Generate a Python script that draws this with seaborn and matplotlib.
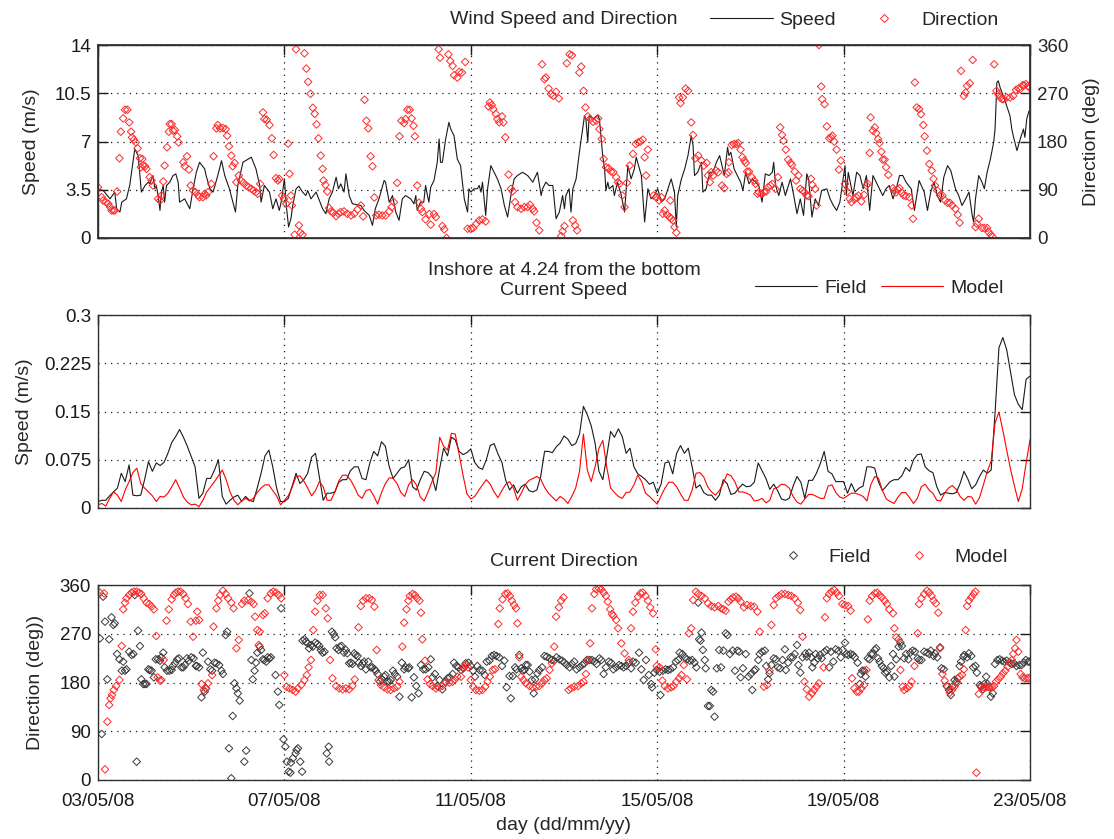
import numpy as np
import pandas as pd
import matplotlib
matplotlib.use("Agg")
import matplotlib.pyplot as plt
from matplotlib.lines import Line2D
import seaborn as sns

sns.set_theme(style="white")
plt.rcParams['font.family'] = ['Liberation Sans', 'DejaVu Sans']
plt.rcParams['font.size'] = 13.5

# ---------------- data ----------------
date_ticks = [0, 4, 8, 12, 16, 20]          # days after 03/05/08 00:00
date_labels = ["03/05/08", "07/05/08", "11/05/08", "15/05/08", "19/05/08", "23/05/08"]

wind_ticks = [0, 3.5, 7, 10.5, 14]
wind_tick_labels = ["0", "3.5", "7", "10.5", "14"]
dir_ticks = [0, 90, 180, 270, 360]
dir_tick_labels = ["0", "90", "180", "270", "360"]
cur_ticks = [0, 0.075, 0.15, 0.225, 0.3]
cur_tick_labels = ["0", "0.075", "0.15", "0.225", "0.3"]

# wind speed (day, m/s)
wind_speed_obs = [
 (0.00,3.52),(0.11,3.45),(0.26,2.84),(0.36,3.33),(0.40,2.12),(0.47,1.88),(0.51,2.60),(0.61,2.84),(0.68,3.81),(0.79,6.46),
 (0.86,5.98),(0.90,4.53),(0.93,3.33),(1.01,3.81),(1.08,4.05),(1.11,3.93),(1.18,4.53),(1.22,3.57),(1.25,3.81),(1.29,3.08),
 (1.33,2.00),(1.36,3.33),(1.40,3.81),(1.43,2.60),(1.47,3.81),(1.54,4.05),(1.61,4.53),(1.67,4.65),(1.72,4.05),(1.75,2.60),
 (1.86,2.84),(1.97,2.12),(2.04,3.57),(2.11,4.77),(2.18,5.49),(2.29,5.01),(2.32,4.53),(2.40,3.57),(2.47,3.33),(2.57,4.53),
 (2.65,5.61),(2.72,4.53),(2.82,3.57),(2.95,1.88),(3.00,3.81),(3.11,5.49),(3.29,5.86),(3.39,5.01),(3.47,3.81),(3.50,2.60),
 (3.57,3.81),(3.68,3.33),(3.75,2.12),(3.82,2.84),(3.89,2.00),(3.93,2.60),(4.00,4.29),(4.04,2.36),(4.09,0.80),(4.14,1.40),
 (4.18,2.36),(4.25,3.57),(4.31,3.76),(4.39,3.33),(4.46,3.08),(4.50,3.45),(4.57,2.84),(4.68,3.33),(4.82,2.12),(4.89,1.76),
 (4.96,2.84),(5.03,3.33),(5.11,4.41),(5.16,3.57),(5.21,3.93),(5.28,3.33),(5.32,4.65),(5.39,3.08),(5.46,2.48),(5.64,2.36),
 (5.71,2.00),(5.82,1.64),(5.89,0.92),(5.95,2.12),(6.03,2.84),(6.14,4.17),(6.17,4.05),(6.25,2.60),(6.32,3.08),(6.39,1.88),
 (6.46,1.28),(6.53,2.84),(6.60,3.08),
 (6.71,2.84),(6.78,2.48),(6.82,3.08),(6.85,2.00),(6.92,2.60),(6.99,2.60),(7.03,3.81),(7.07,3.08),(7.10,2.60),(7.14,3.69),
 (7.21,4.17),(7.28,5.49),(7.32,7.18),(7.35,5.49),(7.39,5.49),(7.46,7.18),(7.53,8.39),(7.57,7.90),(7.64,7.42),(7.71,5.73),
 (7.78,5.25),(7.86,2.84),(7.93,1.88),(7.96,3.57),(8.00,3.33),(8.07,3.57),(8.14,3.57),(8.18,3.81),(8.22,3.33),(8.25,4.05),
 (8.32,1.64),(8.36,3.57),(8.43,5.25),(8.50,4.77),(8.57,4.29),(8.65,3.57),(8.72,2.36),(8.79,1.52),(8.86,3.08),(8.93,4.29),
 (9.00,4.53),(9.11,4.77),(9.22,4.53),(9.33,4.05),(9.43,4.77),(9.51,3.08),(9.54,3.57),(9.61,4.05),(9.68,3.81),(9.76,3.81),
 (9.83,1.40),(9.90,1.88),(9.97,3.08),(10.01,2.12),(10.04,3.08),(10.11,3.57),(10.15,1.88),(10.19,3.57),(10.26,4.29),(10.33,6.22),
 (10.40,7.90),(10.44,8.87),(10.47,8.63),(10.51,6.94),(10.54,8.87),(10.62,8.63),(10.72,8.92),(10.76,8.63),(10.83,5.98),(10.87,5.01),
 (10.90,3.45),(10.94,4.05),(10.97,3.57),(11.05,3.81),(11.08,3.08),(11.15,4.05),(11.23,3.08),(11.30,1.88),(11.37,5.25),(11.44,4.29),
 (11.51,5.01),(11.55,5.86),(11.66,4.53),(11.73,1.16),(11.80,3.57),(11.87,2.84),(11.94,3.08),(12.01,3.57),(12.09,2.60),(12.16,2.84),
 (12.23,3.57),(12.30,4.29),(12.37,3.33),(12.41,0.80),(12.44,3.08),(12.52,4.29),(12.59,5.01),(12.66,5.98),(12.73,7.42),(12.77,6.70),
 (12.80,4.53),(12.87,4.77),(12.95,5.49),(12.98,3.33),(13.05,3.57),(13.13,4.77),(13.20,4.77),(13.27,5.49),(13.34,5.98),
 (13.44,4.53),(13.51,6.58),(13.54,5.98),(13.58,6.22),(13.65,5.01),(13.72,4.53),(13.79,4.05),(13.84,3.45),(13.90,4.77),(13.97,3.93),
 (14.04,4.29),(14.11,4.05),(14.18,3.81),(14.25,2.60),(14.32,4.65),(14.40,4.53),(14.47,4.77),(14.50,5.49),(14.54,3.81),(14.61,3.08),
 (14.68,4.05),(14.75,3.08),(14.86,4.29),(14.93,3.08),(15.00,1.76),(15.07,2.84),(15.14,1.64),(15.21,4.65),(15.25,4.29),(15.32,1.52),
 (15.39,2.84),(15.46,2.36),(15.53,3.45),(15.64,3.57),(15.71,2.84),(15.78,2.36),(15.85,2.00),(15.92,2.60),(16.03,5.25),(16.06,3.08),
 (16.10,4.77),(16.17,3.57),(16.20,3.08),(16.28,4.77),(16.35,4.53),(16.42,3.57),(16.49,4.53),(16.56,2.00),(16.63,4.53),(16.70,4.05),
 (16.77,3.57),(16.84,3.08),(16.91,3.57),(16.98,3.81),(17.06,2.84),(17.13,3.57),(17.20,4.53),(17.27,4.53),(17.34,4.05),(17.45,3.57),
 (17.52,2.00),(17.62,4.17),(17.73,3.33),(17.80,2.00),(17.87,3.33),(17.94,4.05),(18.01,3.08),(18.08,2.60),(18.15,4.41),(18.23,5.25),
 (18.30,4.89),(18.40,3.57),(18.47,3.08),(18.54,2.36),(18.62,2.84),(18.69,3.33),(18.76,1.64),(18.79,1.16),(18.83,2.84),(18.90,4.53),
 (18.97,4.05),(19.02,3.57),(19.08,4.77),(19.15,5.73),(19.22,6.94),(19.25,7.90),(19.29,11.30),(19.32,11.40),(19.36,10.90),(19.43,10.30),
 (19.50,9.59),(19.57,8.87),(19.61,7.90),(19.64,7.42),(19.72,6.34),(19.79,7.18),(19.86,7.90),(19.89,7.30),(19.93,8.63),(19.98,9.23),
]

# wind direction (day, deg)
wind_dir_obs = [
 (0.00,94.8),(0.08,76.2),(0.11,70.0),(0.17,66.9),(0.22,63.8),(0.26,57.6),(0.29,51.4),(0.33,51.4),(0.36,51.4),(0.41,86.7),
 (0.46,148.7),(0.49,198.3),(0.54,223.1),(0.58,239.2),(0.63,239.2),(0.67,215.6),(0.71,198.3),(0.73,187.7),(0.77,183.4),(0.81,178.4),
 (0.85,167.3),(0.90,148.7),(0.92,132.0),(0.95,147.5),(0.97,135.1),(1.01,133.8),(1.04,128.9),(1.11,113.4),(1.15,107.2),(1.18,97.9),
 (1.29,73.1),(1.33,70.0),(1.36,79.3),(1.40,105.3),(1.43,135.1),(1.48,169.1),(1.52,198.3),(1.54,212.5),(1.58,212.5),(1.61,200.1),
 (1.65,201.4),(1.70,189.6),(1.73,178.4),(1.83,141.3),(1.86,133.8),(1.91,152.4),(1.95,127.6),(1.99,97.9),(2.04,88.6),(2.09,85.5),
 (2.15,79.3),(2.18,76.2),(2.25,76.2),(2.29,82.4),(2.32,79.3),(2.36,85.5),(2.43,101.0),(2.48,152.4),(2.54,204.5),(2.57,210.7),
 (2.62,204.5),(2.68,205.1),(2.74,203.2),(2.77,190.8),(2.81,171.0),(2.86,153.7),(2.89,133.8),(2.93,140.0),(2.97,104.1),(3.02,116.5),
 (3.07,107.2),(3.12,102.9),(3.18,97.9),(3.23,94.8),(3.29,91.7),(3.34,88.6),(3.39,85.5),(3.43,82.4),(3.48,101.0),(3.54,234.2),
 (3.57,221.8),(3.62,220.6),(3.68,210.7),(3.73,185.9),(3.77,154.9),(3.82,111.5),(3.86,107.2),(3.89,110.3),(3.95,79.3),(3.99,73.1),
 (4.04,63.8),(4.08,176.0),(4.11,119.6),(4.14,79.3),(4.16,60.7),(4.22,6.2),(4.25,351.9),(4.31,23.5),(4.34,9.9),(4.39,6.2),
 (4.43,344.5),(4.47,316.0),(4.51,291.2),(4.56,268.9),(4.61,242.9),(4.65,231.7),(4.69,211.9),(4.73,185.9),(4.78,153.7),(4.82,128.9),
 (4.84,107.2),(4.88,99.1),(4.92,86.7),(4.96,55.8),(5.00,49.6),(5.05,47.1),(5.11,40.9),(5.16,45.2),(5.21,48.3),(5.28,49.6),
 (5.35,45.2),(5.43,42.1),(5.50,45.2),(5.57,53.3),(5.64,60.7),(5.69,40.3),(5.72,257.8),(5.76,218.7),(5.80,204.5),(5.85,152.4),
 (5.89,133.8),(5.93,75.6),(5.97,42.1),(6.03,43.4),(6.10,42.1),(6.17,42.1),(6.25,49.6),(6.30,57.6),(6.35,66.9),(6.42,102.9),
 (6.47,189.6),(6.51,218.7),(6.57,214.4),(6.60,221.8),(6.64,239.2),
 (6.69,239.2),(6.73,223.1),(6.77,209.4),(6.80,189.6),(6.85,97.9),(6.89,65.7),(6.93,54.5),(6.96,48.3),(7.03,34.7),(7.11,44.6),
 (7.14,24.8),(7.21,44.6),(7.25,39.0),(7.31,351.9),(7.34,336.4),(7.39,22.3),(7.43,16.1),(7.48,0.0),(7.52,342.6),(7.56,330.2),
 (7.61,321.0),(7.64,303.6),(7.71,299.3),(7.75,309.8),(7.81,308.6),(7.88,328.4),(7.93,17.3),(8.00,17.3),(8.05,18.6),(8.12,26.6),
 (8.18,32.8),(8.25,34.7),(8.32,31.0),(8.38,245.4),(8.41,252.8),(8.45,247.8),(8.48,240.4),(8.54,231.1),(8.57,221.8),(8.61,215.6),
 (8.67,226.8),(8.70,215.6),(8.74,187.7),(8.81,118.3),(8.86,91.7),(8.90,87.4),(8.95,66.9),(9.00,57.6),(9.08,54.5),(9.15,57.6),
 (9.22,57.6),(9.27,62.0),(9.33,54.5),(9.36,49.6),(9.41,28.5),(9.47,14.3),(9.53,324.0),(9.58,296.2),(9.61,299.3),(9.67,278.8),
 (9.72,268.3),(9.77,265.2),(9.83,272.6),(9.89,260.2),(9.94,3.7),(9.97,12.4),(10.01,22.3),(10.06,325.9),(10.12,342.6),(10.17,340.8),
 (10.19,32.8),(10.24,23.5),(10.28,14.3),(10.33,308.6),(10.37,319.7),(10.42,274.5),(10.46,243.5),(10.51,226.8),(10.56,221.8),(10.62,216.9),
 (10.69,218.7),(10.73,223.1),(10.76,203.2),(10.81,184.6),(10.85,147.5),(10.90,132.0),(10.96,130.1),(11.01,123.9),(11.06,122.7),(11.12,113.4),
 (11.16,104.1),(11.19,101.0),(11.25,79.3),(11.30,57.6),(11.35,102.9),(11.41,135.1),(11.48,156.8),(11.54,175.3),(11.59,178.4),(11.64,179.7),
 (11.69,183.4),(11.73,150.6),(11.76,116.5),(11.80,164.8),(11.92,79.3),(11.98,76.2),(12.04,70.0),(12.09,76.2),(12.12,45.2),(12.16,51.4),
 (12.21,43.4),(12.27,39.0),(12.28,70.0),(12.30,35.9),(12.34,32.8),(12.37,20.4),(12.41,9.9),(12.47,262.1),(12.50,251.6),(12.55,262.1),
 (12.61,278.8),(12.66,274.5),(12.73,215.6),(12.77,192.1),(12.82,148.7),(12.88,153.7),(12.95,144.4),(13.00,135.1),(13.06,140.0),(13.09,116.5),
 (13.13,104.1),(13.16,122.7),(13.20,116.5),(13.26,125.8),(13.31,122.7),
 (13.39,97.9),(13.44,92.9),(13.49,119.6),(13.53,122.7),(13.54,141.3),(13.60,173.5),(13.65,175.3),(13.70,175.3),(13.74,177.2),(13.79,164.8),
 (13.83,150.6),(13.87,144.4),(13.90,140.0),(13.93,123.9),(13.97,123.9),(14.03,113.4),(14.08,107.2),(14.11,101.0),(14.15,82.4),(14.18,85.5),
 (14.24,82.4),(14.29,85.5),(14.34,86.7),(14.38,94.8),(14.43,97.9),(14.47,101.0),(14.54,91.7),(14.59,113.4),(14.64,206.3),(14.68,192.1),
 (14.71,181.5),(14.76,164.8),(14.81,146.2),(14.86,140.0),(14.89,136.3),(14.95,123.9),(14.98,107.2),(15.03,116.5),(15.07,91.7),(15.12,88.6),
 (15.16,85.5),(15.21,79.3),(15.25,78.1),(15.30,110.3),(15.33,99.1),(15.39,91.7),(15.42,60.7),(15.47,360.0),(15.52,282.5),(15.54,259.0),
 (15.59,249.7),(15.64,208.2),(15.69,185.9),(15.73,187.7),(15.76,190.8),(15.80,179.7),(15.85,164.8),(15.90,127.6),(15.94,144.4),(16.03,101.0),
 (16.08,86.7),(16.13,73.1),(16.17,66.9),(16.23,71.9),(16.27,76.2),(16.32,79.3),(16.38,68.2),(16.44,80.5),(16.49,97.9),(16.52,101.0),
 (16.56,158.6),(16.58,224.9),(16.63,200.1),(16.67,206.3),(16.70,195.8),(16.74,184.6),(16.77,177.2),(16.81,161.1),(16.84,146.2),(16.88,146.2),
 (16.91,132.0),(16.96,117.7),(17.06,92.9),(17.09,88.6),(17.13,85.5),(17.16,90.5),(17.20,92.9),(17.25,84.3),(17.29,79.3),(17.34,78.1),
 (17.41,76.2),(17.46,60.7),(17.49,35.9),(17.53,290.0),(17.57,243.5),(17.62,240.4),(17.66,231.1),(17.71,210.7),(17.74,189.6),(17.79,163.0),
 (17.84,138.2),(17.89,125.8),(17.93,110.3),(17.96,97.9),(18.01,88.6),(18.07,79.3),(18.12,79.3),(18.18,70.0),(18.23,65.7),(18.28,65.7),
 (18.33,60.7),(18.40,54.5),(18.45,43.4),(18.49,28.5),(18.52,311.7),(18.58,265.2),(18.62,271.4),(18.65,283.8),(18.71,288.7),(18.77,332.1),
 (18.83,20.4),(18.86,26.6),(18.90,35.9),(18.97,18.6),(19.02,18.6),(19.08,18.6),(19.11,11.2),(19.16,6.2),(19.20,1.9),(19.23,324.0),
 (19.28,274.5),(19.32,268.3),(19.36,262.1),(19.40,259.0),(19.43,259.0),(19.50,262.1),(19.57,262.1),(19.64,265.2),(19.70,276.3),(19.75,278.8),
 (19.79,277.6),(19.84,285.0),(19.87,285.0),(19.91,286.9),(19.96,283.8),(19.99,280.7),
]

# current speed, 2-hourly samples from 03/05/08 00:00 (m/s)
cur_field = [
 0.010,0.012,0.012,0.019,0.025,0.031,0.054,0.041,0.067,0.020,
 0.019,0.020,0.044,0.072,0.057,0.070,0.066,0.071,0.085,0.102,
 0.111,0.122,0.110,0.096,0.080,0.064,0.015,0.023,0.046,0.046,
 0.059,0.075,0.018,0.006,0.012,0.017,0.020,0.010,0.018,0.012,
 0.010,0.031,0.054,0.081,0.090,0.064,0.031,0.010,0.010,0.015,
 0.034,0.054,0.038,0.044,0.054,0.079,0.085,0.049,0.012,0.023,
 0.023,0.025,0.040,0.044,0.044,0.058,0.064,0.064,0.046,0.044,
 0.070,0.088,0.081,0.103,0.096,0.064,0.046,0.054,0.062,0.064,
 0.075,0.033,0.028,0.044,0.057,0.055,0.048,0.027,0.062,0.093,
 0.081,0.110,0.106,0.088,0.083,0.086,0.092,0.071,0.063,0.060,
 0.075,0.097,0.100,0.084,0.071,0.043,0.028,0.036,0.023,0.033,
 0.037,0.027,0.025,0.028,0.049,0.088,0.088,0.086,0.095,0.101,
 0.112,0.107,0.097,0.100,0.115,0.158,0.145,0.128,0.101,0.057,
 0.044,0.080,0.119,0.110,0.123,0.111,0.085,0.093,0.064,0.053,
 0.049,0.044,0.037,0.040,0.023,0.037,0.070,0.072,0.053,0.085,
 0.097,0.085,0.093,0.064,0.031,0.036,0.024,0.020,0.020,0.012,
 0.020,0.044,0.038,0.021,0.023,0.031,0.037,0.033,0.034,0.040,
 0.070,0.058,0.046,0.029,0.037,0.027,0.014,0.012,0.015,0.034,
 0.049,0.040,0.015,0.043,0.043,0.054,0.069,0.088,0.057,0.053,
 0.041,0.041,0.041,0.023,0.038,0.025,0.031,0.034,0.064,0.064,
 0.062,0.040,0.027,0.034,0.041,0.044,0.044,0.050,0.063,0.057,
 0.075,0.083,0.084,0.064,0.058,0.055,0.033,0.020,0.024,0.023,
 0.022,0.024,0.038,0.057,0.045,0.030,0.036,0.049,0.059,0.054,
 0.059,0.148,0.249,0.265,0.246,0.211,0.176,0.161,0.153,0.200,
 0.205,
]
cur_model = [
 0.005,0.007,0.003,0.015,0.025,0.020,0.010,0.028,0.041,0.055,
 0.062,0.038,0.031,0.025,0.019,0.010,0.018,0.017,0.023,0.033,
 0.044,0.031,0.017,0.009,0.005,0.006,0.002,0.012,0.025,0.033,
 0.041,0.050,0.059,0.044,0.025,0.012,0.005,0.011,0.015,0.011,
 0.015,0.024,0.031,0.036,0.036,0.027,0.019,0.005,0.012,0.019,
 0.032,0.049,0.050,0.042,0.031,0.019,0.027,0.041,0.033,0.012,
 0.012,0.025,0.042,0.051,0.051,0.044,0.033,0.020,0.015,0.027,
 0.029,0.019,0.006,0.024,0.038,0.047,0.046,0.038,0.024,0.018,
 0.036,0.044,0.036,0.017,0.011,0.025,0.041,0.055,0.110,0.096,
 0.090,0.116,0.115,0.083,0.051,0.022,0.014,0.018,0.027,0.036,
 0.044,0.037,0.025,0.016,0.027,0.037,0.041,0.031,0.012,0.023,
 0.036,0.043,0.046,0.049,0.045,0.032,0.023,0.017,0.011,0.018,
 0.014,0.007,0.018,0.031,0.057,0.115,0.059,0.041,0.064,0.093,
 0.105,0.064,0.031,0.024,0.018,0.015,0.024,0.025,0.036,0.051,
 0.041,0.023,0.018,0.012,0.006,0.019,0.031,0.040,0.040,0.033,
 0.022,0.012,0.012,0.028,0.054,0.055,0.048,0.033,0.025,0.020,
 0.027,0.038,0.053,0.050,0.041,0.025,0.025,0.023,0.020,0.011,
 0.012,0.015,0.008,0.012,0.030,0.032,0.037,0.036,0.031,0.018,
 0.009,0.006,0.014,0.021,0.021,0.018,0.015,0.015,0.034,0.036,
 0.024,0.017,0.015,0.019,0.023,0.023,0.021,0.018,0.011,0.036,
 0.049,0.046,0.027,0.014,0.010,0.007,0.017,0.024,0.024,0.016,
 0.007,0.015,0.033,0.037,0.028,0.023,0.012,0.011,0.023,0.031,
 0.035,0.029,0.018,0.012,0.018,0.017,0.006,0.016,0.036,0.057,
 0.073,0.132,0.149,0.121,0.090,0.060,0.034,0.010,0.030,0.070,
 0.106,
]

# current direction (day, deg)
cdir_field = [
 (0.04,261.5),(0.08,84.9),(0.11,338.5),(0.15,292.3),(0.20,185.8),(0.24,259.7),(0.29,300.3),(0.33,286.2),(0.36,289.2),(0.41,232.6),
 (0.46,222.8),(0.51,201.8),(0.54,218.5),(0.58,201.8),(0.61,204.3),(0.67,236.9),(0.72,230.8),(0.76,232.6),(0.79,341.5),(0.83,33.8),
 (0.86,275.7),(0.90,247.4),(0.93,185.8),(0.97,177.2),(1.01,177.2),(1.04,177.2),(1.08,204.3),(1.11,203.1),(1.15,201.8),(1.20,189.5),
 (1.24,222.8),(1.29,222.8),(1.33,220.3),(1.36,226.5),(1.40,235.1),(1.43,208.0),(1.48,201.8),(1.53,201.8),(1.58,203.1),(1.61,210.5),
 (1.65,215.4),(1.70,222.8),(1.74,224.6),(1.79,208.0),(1.83,208.0),(1.86,212.3),(1.91,224.6),(1.95,220.3),(2.00,226.5),(2.05,224.6),
 (2.10,210.5),(2.12,210.5),(2.17,208.0),(2.22,152.6),(2.25,235.1),(2.29,163.1),(2.32,169.2),(2.36,218.5),(2.41,204.3),(2.45,201.8),
 (2.50,216.6),(2.54,215.4),(2.60,212.3),(2.65,201.8),(2.68,195.7),(2.74,267.7),(2.77,273.8),(2.81,58.5),(2.86,3.1),(2.89,118.2),
 (2.93,178.5),(2.97,169.2),(3.00,160.0),(3.04,146.5),(3.14,33.8),(3.18,54.2),(3.25,344.6),(3.29,221.5),(3.32,185.8),(3.36,201.8),
 (3.39,216.6),(3.42,235.1),(3.47,246.2),(3.50,240.0),(3.54,222.8),(3.57,221.5),(3.61,218.5),(3.64,226.5),(3.68,224.6),(3.71,226.5),
 (3.81,193.8),(3.86,163.1),(3.89,138.5),(3.93,316.9),(3.98,75.1),(4.02,61.5),(4.05,33.8),(4.09,15.4),(4.13,13.5),(4.14,32.0),
 (4.18,40.0),(4.24,49.2),(4.26,55.4),(4.29,58.5),(4.34,33.8),(4.38,15.4),(4.39,257.2),(4.43,259.7),(4.46,255.4),(4.50,252.3),
 (4.53,243.1),(4.57,249.2),(4.61,246.2),(4.66,253.5),(4.71,251.1),(4.75,247.4),(4.78,240.0),(4.82,235.1),(4.86,236.9),(4.91,49.2),
 (4.95,61.5),(4.96,33.8),(5.02,273.8),(5.06,269.5),(5.09,263.4),(5.12,243.1),(5.16,240.0),(5.19,246.2),(5.23,247.4),(5.28,235.1),
 (5.32,240.0),(5.35,233.8),(5.39,215.4),(5.43,216.6),(5.46,214.2),(5.50,233.8),(5.53,230.8),(5.57,228.9),(5.60,216.6),(5.64,210.5),
 (5.68,215.4),(5.71,218.5),(5.75,204.3),(5.80,218.5),(5.85,208.0),(5.89,208.0),(5.93,204.3),(5.96,201.8),(6.00,195.7),(6.05,181.5),
 (6.09,185.8),(6.14,190.8),(6.17,193.8),(6.21,181.5),(6.25,181.5),(6.28,184.6),(6.33,201.8),(6.37,195.7),(6.42,190.8),(6.47,153.8),
 (6.52,216.6),(6.57,204.3),(6.60,208.0),(6.66,206.2),
 (6.68,208.0),(6.73,152.6),(6.78,189.5),(6.83,173.5),(6.88,160.0),(6.93,212.3),(6.98,204.3),(7.03,204.3),(7.09,208.0),(7.14,222.8),
 (7.18,189.5),(7.23,195.7),(7.28,173.5),(7.33,184.6),(7.39,167.4),(7.45,181.5),(7.50,187.7),(7.55,189.5),(7.61,195.7),(7.64,216.6),
 (7.69,210.5),(7.74,208.0),(7.79,203.1),(7.84,206.2),(7.89,215.4),(7.95,216.6),(8.00,210.5),(8.05,201.8),(8.09,190.8),(8.14,210.5),
 (8.19,203.1),(8.25,201.8),(8.30,193.8),(8.34,218.5),(8.40,220.3),(8.45,228.9),(8.50,230.8),(8.55,228.9),(8.61,226.5),(8.67,210.5),
 (8.72,220.3),(8.77,171.1),(8.83,192.0),(8.86,150.8),(8.90,192.0),(8.95,208.0),(8.98,204.3),(9.04,230.8),(9.08,206.2),(9.11,201.8),
 (9.15,203.1),(9.18,212.3),(9.22,212.3),(9.26,200.0),(9.31,184.6),(9.35,160.0),(9.38,185.8),(9.43,196.9),(9.47,203.1),(9.53,208.0),
 (9.58,228.9),(9.63,227.7),(9.69,224.6),(9.74,221.5),(9.79,220.3),(9.84,226.5),(9.90,222.8),(9.96,220.3),(10.01,216.6),(10.06,212.3),
 (10.12,208.0),(10.17,214.2),(10.22,218.5),(10.27,204.3),(10.33,208.0),(10.39,212.3),(10.44,215.4),(10.49,221.5),(10.55,221.5),(10.60,221.5),
 (10.65,218.5),(10.70,214.2),(10.76,224.6),(10.80,221.5),(10.85,195.7),(10.90,208.0),(10.96,218.5),(11.01,216.6),(11.06,204.3),(11.12,208.0),
 (11.18,212.3),(11.23,210.5),(11.28,208.0),(11.33,210.5),(11.39,216.6),(11.44,206.2),(11.48,218.5),(11.54,216.6),(11.61,235.1),(11.66,204.3),
 (11.71,184.6),(11.76,221.5),(11.82,193.8),(11.87,177.2),(11.89,171.1),(11.94,198.2),(11.99,203.1),(12.05,200.0),(12.07,156.9),(12.12,201.8),
 (12.18,204.3),(12.23,203.1),(12.28,204.3),(12.34,208.0),(12.40,218.5),(12.45,221.5),(12.48,235.1),(12.54,232.6),(12.59,226.5),(12.64,222.8),
 (12.70,220.3),(12.75,221.5),(12.80,216.6),(12.84,208.0),(12.88,327.4),(12.90,259.7),(12.93,257.2),(12.95,272.0),(12.98,240.0),(13.02,221.5),
 (13.04,206.2),(13.09,136.6),(13.13,136.6),(13.16,166.2),(13.20,163.1),(13.23,116.9),(13.28,206.2),(13.33,240.0),
 (13.37,208.0),(13.42,238.8),(13.47,270.8),(13.51,267.7),(13.56,232.6),(13.62,238.8),(13.67,201.8),(13.72,238.8),(13.76,236.9),(13.79,189.5),
 (13.84,206.2),(13.90,232.6),(13.96,190.8),(14.01,195.7),(14.04,166.2),(14.08,201.8),(14.11,204.3),(14.17,221.5),(14.20,232.6),(14.25,236.9),
 (14.31,238.8),(14.34,210.5),(14.38,185.8),(14.41,196.9),(14.45,212.3),(14.50,224.6),(14.55,222.8),(14.59,208.0),(14.64,206.2),(14.69,221.5),
 (14.74,241.2),(14.76,203.1),(14.81,216.6),(14.86,226.5),(14.91,226.5),(14.95,232.6),(15.00,249.2),(15.03,212.3),(15.07,198.2),(15.12,226.5),
 (15.18,233.8),(15.21,227.7),(15.26,235.1),(15.30,226.5),(15.33,208.0),(15.37,216.6),(15.40,232.6),(15.45,224.6),(15.49,230.8),(15.53,224.6),
 (15.59,236.9),(15.64,240.0),(15.69,208.0),(15.73,236.9),(15.78,218.5),(15.83,241.2),(15.89,238.8),(15.94,226.5),(15.98,240.0),(16.03,253.5),
 (16.06,232.6),(16.10,230.8),(16.15,232.6),(16.20,230.8),(16.24,226.5),(16.30,216.6),(16.35,177.2),(16.37,195.7),(16.40,201.8),(16.44,201.8),
 (16.47,190.8),(16.52,224.6),(16.56,222.8),(16.59,232.6),(16.63,232.6),(16.67,240.0),(16.70,243.1),(16.74,224.6),(16.77,218.5),(16.82,210.5),
 (16.86,206.2),(16.89,198.2),(16.93,200.0),(16.98,189.5),(17.02,210.5),(17.06,232.6),(17.09,190.8),(17.13,222.8),(17.18,246.2),(17.22,253.5),
 (17.25,247.4),(17.30,224.6),(17.34,232.6),(17.39,222.8),(17.43,235.1),(17.48,238.8),(17.53,236.9),(17.59,224.6),(17.62,221.5),(17.67,221.5),
 (17.73,236.9),(17.79,235.1),(17.84,232.6),(17.87,238.8),(17.93,228.9),(17.96,233.8),(18.01,226.5),(18.07,244.9),(18.10,206.2),(18.15,204.3),
 (18.21,173.5),(18.26,166.2),(18.30,156.9),(18.33,172.3),(18.38,184.6),(18.42,181.5),(18.45,187.7),(18.49,210.5),(18.52,218.5),(18.57,227.7),
 (18.59,230.8),(18.65,226.5),(18.69,233.8),(18.74,228.9),(18.78,208.0),(18.83,210.5),(18.86,198.2),(18.92,175.4),(18.95,173.5),(18.99,167.4),
 (19.02,177.2),(19.06,190.8),(19.09,177.2),(19.13,171.1),(19.16,153.8),(19.20,160.0),(19.25,214.2),(19.30,221.5),(19.35,222.8),(19.40,220.3),
 (19.45,218.5),(19.50,220.3),(19.56,216.6),(19.61,214.2),(19.66,215.4),(19.71,210.5),(19.77,212.3),(19.82,212.3),(19.87,216.6),(19.91,221.5),
 (19.96,218.5),(19.99,218.5),
]
cdir_model = [
 (0.04,345.9),(0.13,344.6),(0.15,19.7),(0.20,107.7),(0.24,138.5),(0.27,150.8),(0.30,156.9),(0.34,166.2),(0.39,173.5),(0.46,184.6),
 (0.51,247.4),(0.54,315.1),(0.58,327.4),(0.61,335.4),(0.67,341.5),(0.72,345.9),(0.77,347.7),(0.83,347.7),(0.88,345.9),(0.93,343.4),
 (0.98,335.4),(1.04,327.4),(1.10,324.9),(1.15,320.0),(1.20,315.1),(1.25,265.9),(1.28,189.5),(1.33,183.4),(1.36,184.6),(1.41,221.5),
 (1.47,294.2),(1.52,315.1),(1.58,333.5),(1.63,341.5),(1.67,345.9),(1.72,347.7),(1.77,347.7),(1.83,343.4),(1.88,335.4),(1.93,324.9),
 (1.99,292.3),(2.04,264.6),(2.10,294.2),(2.13,310.8),(2.17,295.4),(2.22,177.2),(2.27,166.2),(2.31,169.2),(2.36,178.5),(2.45,193.8),
 (2.48,283.1),(2.54,316.9),(2.58,331.1),(2.62,341.5),(2.68,349.5),(2.74,343.4),(2.79,335.4),(2.86,327.4),(2.91,316.9),(2.97,243.1),
 (3.02,258.5),(3.09,324.9),(3.14,331.1),(3.22,332.3),(3.29,329.2),(3.34,324.9),(3.37,301.5),(3.42,276.9),(3.45,249.2),(3.47,273.8),
 (3.54,304.6),(3.58,307.7),(3.64,335.4),(3.71,344.6),(3.76,347.7),(3.82,345.9),(3.88,341.5),(3.93,335.4),(4.00,193.8),(4.04,172.3),
 (4.11,169.2),(4.18,166.2),(4.24,163.1),(4.29,169.2),(4.36,175.4),(4.43,184.6),(4.48,193.8),(4.52,208.0),(4.57,221.5),(4.62,276.9),
 (4.66,310.8),(4.71,331.1),(4.76,341.5),(4.82,341.5),(4.89,316.9),(4.93,298.5),(4.98,221.5),(5.03,187.7),(5.11,173.5),(5.18,169.2),
 (5.25,167.4),(5.32,169.2),(5.39,167.4),(5.46,173.5),(5.51,185.8),(5.59,281.8),(5.64,321.2),(5.69,331.1),(5.75,335.4),(5.82,335.4),
 (5.88,332.3),(5.93,320.0),(5.98,240.0),(6.02,184.6),(6.07,175.4),(6.14,171.1),(6.21,167.4),(6.28,166.2),(6.35,169.2),(6.42,172.3),
 (6.47,181.5),(6.53,246.2),(6.57,290.5),(6.62,315.1),(6.66,331.1),
 (6.69,339.7),(6.75,343.4),(6.80,341.5),(6.85,335.4),(6.90,331.1),(6.93,308.9),(6.96,259.7),(7.02,220.3),(7.07,185.8),(7.12,177.2),
 (7.18,173.5),(7.25,169.2),(7.32,171.1),(7.39,173.5),(7.46,179.7),(7.54,179.7),(7.61,181.5),(7.66,185.8),(7.71,190.8),(7.79,190.8),
 (7.84,208.0),(7.89,212.3),(7.94,208.0),(8.00,184.6),(8.05,172.3),(8.11,166.2),(8.18,164.9),(8.25,166.2),(8.31,172.3),(8.36,181.5),
 (8.41,190.8),(8.47,203.1),(8.52,204.3),(8.59,288.0),(8.62,316.9),(8.68,333.5),(8.74,343.4),(8.79,344.6),(8.84,339.7),(8.88,331.1),
 (8.93,323.1),(8.97,316.9),(9.00,289.2),(9.04,226.5),(9.08,190.8),(9.13,184.6),(9.18,178.5),(9.26,173.5),(9.33,171.1),(9.40,172.3),
 (9.47,173.5),(9.53,178.5),(9.58,184.6),(9.63,187.7),(9.69,203.1),(9.74,215.4),(9.79,246.2),(9.83,301.5),(9.89,318.8),(9.94,331.1),
 (9.99,337.2),(10.10,166.2),(10.15,169.2),(10.22,172.3),(10.30,173.5),(10.37,178.5),(10.42,181.5),(10.47,195.7),(10.51,221.5),(10.56,252.3),
 (10.60,316.9),(10.65,343.4),(10.69,352.0),(10.75,353.8),(10.80,352.0),(10.85,345.9),(10.90,339.7),(10.94,329.2),(10.99,315.1),(11.03,306.5),
 (11.06,302.8),(11.12,295.4),(11.16,280.0),(11.23,252.3),(11.30,233.8),(11.39,221.5),(11.44,280.0),(11.48,310.8),(11.53,327.4),(11.59,338.5),
 (11.64,344.6),(11.69,345.9),(11.75,339.7),(11.80,331.1),(11.85,318.8),(11.91,307.7),(11.97,241.2),(11.99,210.5),(12.05,208.0),(12.11,183.4),
 (12.16,173.5),(12.23,169.2),(12.30,171.1),(12.35,173.5),(12.41,181.5),(12.47,187.7),(12.52,193.8),(12.57,212.3),(12.64,185.8),(12.68,270.8),
 (12.73,280.0),(12.77,332.3),(12.83,347.7),(12.88,343.4),(12.95,339.7),(13.02,335.4),(13.09,326.2),(13.16,321.2),(13.23,318.8),(13.31,321.2),
 (13.37,316.9),(13.42,315.1),(13.47,312.6),(13.53,329.2),(13.58,333.5),(13.63,337.2),(13.69,338.5),(13.74,335.4),(13.79,329.2),(13.86,318.8),
 (13.93,323.1),(14.01,321.2),(14.08,320.0),(14.15,310.8),(14.20,273.8),(14.29,172.3),(14.36,175.4),(14.41,201.8),(14.45,286.2),(14.50,323.1),
 (14.55,335.4),(14.61,339.7),(14.67,343.4),(14.74,343.4),(14.81,341.5),(14.88,339.7),(14.95,335.4),(15.02,327.4),(15.07,313.8),(15.12,264.6),
 (15.16,181.5),(15.21,167.4),(15.26,153.8),(15.32,160.0),(15.37,166.2),(15.42,172.3),(15.47,178.5),(15.57,208.0),(15.60,300.3),(15.64,335.4),
 (15.69,343.4),(15.74,347.7),(15.80,350.8),(15.85,345.9),(15.90,339.7),(15.97,324.9),(16.03,323.1),(16.10,321.2),(16.15,312.6),(16.18,187.7),
 (16.23,169.2),(16.28,163.1),(16.33,163.1),(16.38,169.2),(16.44,175.4),(16.49,203.1),(16.52,296.6),(16.56,331.1),(16.61,339.7),(16.67,344.6),
 (16.72,345.9),(16.77,341.5),(16.82,337.2),(16.88,331.1),(16.93,324.9),(16.98,315.1),(17.06,307.7),(17.09,280.0),(17.13,263.4),(17.18,259.7),
 (17.22,203.1),(17.27,172.3),(17.30,166.2),(17.36,169.2),(17.41,173.5),(17.46,181.5),(17.52,210.5),(17.59,270.8),(17.62,324.9),(17.67,335.4),
 (17.73,343.4),(17.79,349.5),(17.84,345.9),(17.89,339.7),(17.93,331.1),(17.98,326.2),(18.03,308.9),(18.07,243.1),(18.12,195.7),(18.17,183.4),
 (18.23,172.3),(18.28,161.2),(18.33,166.2),(18.38,172.3),(18.44,179.7),(18.49,190.8),(18.54,193.8),(18.58,204.3),(18.62,276.9),(18.65,321.2),
 (18.69,331.1),(18.74,337.2),(18.79,343.4),(18.83,347.7),(18.85,13.5),(18.90,158.8),(18.95,171.1),(19.01,171.1),(19.06,171.1),(19.11,172.3),
 (19.18,171.1),(19.23,173.5),(19.27,181.5),(19.32,185.8),(19.37,190.8),(19.42,196.9),(19.47,201.8),(19.52,209.2),(19.57,216.6),(19.61,221.5),
 (19.64,232.6),(19.68,243.1),(19.71,258.5),(19.75,236.9),(19.80,195.7),(19.84,189.5),(19.89,187.7),(19.94,187.7),(19.98,187.7),
]

# ---------------- frames ----------------
ws = pd.DataFrame(wind_speed_obs, columns=["day", "speed"])
wd = pd.DataFrame(wind_dir_obs, columns=["day", "dir"])
cs = pd.DataFrame({"day": np.arange(len(cur_field)) / 12.0, "field": cur_field, "model": cur_model})
cdf = pd.DataFrame(cdir_field, columns=["day", "dir"])
cdm = pd.DataFrame(cdir_model, columns=["day", "dir"])

W, H = 1114, 839
fig = plt.figure(figsize=(W / 100, H / 100), dpi=100)
L, R = 98 / W, 1030 / W

def box(top, bottom):
    return [L, 1 - bottom / H, R - L, (bottom - top) / H]

ax1 = fig.add_axes(box(45, 238))
ax2 = fig.add_axes(box(315, 508))
ax3 = fig.add_axes(box(585, 780))

FS = 13.5
FT = 14
grid_ls = (0, (1, 4))

def style(ax, yt, yl, ylim, right=True):
    ax.set_xlim(0, 20)
    ax.set_ylim(*ylim)
    ax.set_xticks(date_ticks)
    ax.set_yticks(yt)
    ax.set_yticklabels(yl)
    ax.tick_params(axis='both', direction='in', length=7, width=1, top=True,
                   right=right, colors='k', labelsize=FS, pad=5)
    ax.tick_params(axis='x', pad=9)
    ax.grid(True, linestyle=grid_ls, color='k', linewidth=0.9)
    ax.set_axisbelow(True)
    for s in ax.spines.values():
        s.set_color('#303030')
        s.set_linewidth(1.0)

RED_EDGE = '#ff2a2a'
GRAY_EDGE = '#3a3a3a'
MS = 15

# ---- top: wind ----
sns.lineplot(data=ws, x="day", y="speed", ax=ax1, color='k', lw=0.8,
             estimator=None, sort=False)
style(ax1, wind_ticks, wind_tick_labels, (0, 14), right=False)
ax1.set_xticklabels([])
ax1.set_xlabel("")
ax1.set_ylabel("Speed (m/s)", fontsize=FT)
ax1.yaxis.set_label_coords(-0.062, 0.5)

ax1b = ax1.twinx()
ax1b.set_position(box(45, 238))
sns.scatterplot(data=wd, x="day", y="dir", ax=ax1b, marker='D', s=MS,
                color=RED_EDGE, facecolors='none', edgecolor=RED_EDGE, linewidth=0.7)
ax1b.set_xlim(0, 20)
ax1b.set_ylim(0, 360)
ax1b.set_yticks(dir_ticks)
ax1b.set_yticklabels(dir_tick_labels)
ax1b.tick_params(axis='y', direction='in', length=7, width=1, labelsize=FS, pad=5)
ax1b.grid(False)
ax1b.set_xlabel("")
ax1b.set_ylabel("Direction (deg)", fontsize=FT)
ax1b.yaxis.set_label_coords(1.057, 0.5)
for s in ax1b.spines.values():
    s.set_color('#303030')

ax1.text(0.5, 1.13, "Wind Speed and Direction", transform=ax1.transAxes,
         ha='center', va='center', fontsize=FT)
h_speed = Line2D([], [], color='k', lw=0.8)
h_dir = Line2D([], [], color=RED_EDGE, marker='D', ls='none', mfc='none', mec=RED_EDGE, ms=3.6, mew=0.7)
ax1b.legend([h_speed, h_dir], ["Speed", "Direction"], loc='center left',
            bbox_to_anchor=(0.657, 1.13), ncol=2, frameon=False, fontsize=FT,
            handlelength=3.2, handletextpad=0.35, columnspacing=0.85,
            borderpad=0, borderaxespad=0, numpoints=1)

# ---- middle: current speed ----
sns.lineplot(data=cs, x="day", y="field", ax=ax2, color='k', lw=0.8, estimator=None, sort=False)
sns.lineplot(data=cs, x="day", y="model", ax=ax2, color='#ff0000', lw=0.8, estimator=None, sort=False)
style(ax2, cur_ticks, cur_tick_labels, (0, 0.3))
ax2.set_xticklabels([])
ax2.set_xlabel("")
ax2.set_ylabel("Speed (m/s)", fontsize=FT)
ax2.yaxis.set_label_coords(-0.07, 0.5)
ax2.text(0.5, 1.18, "Inshore at 4.24 from the bottom\nCurrent Speed", transform=ax2.transAxes,
         ha='center', va='center', fontsize=FT, linespacing=1.25)
h_f = Line2D([], [], color='k', lw=0.8)
h_m = Line2D([], [], color='#ff0000', lw=0.8)
ax2.legend([h_f, h_m], ["Field", "Model"], loc='center left',
           bbox_to_anchor=(0.705, 1.14), ncol=2, frameon=False, fontsize=FT,
           handlelength=3.2, handletextpad=0.35, columnspacing=0.75,
           borderpad=0, borderaxespad=0)

# ---- bottom: current direction ----
sns.scatterplot(data=cdf, x="day", y="dir", ax=ax3, marker='D', s=MS,
                color=GRAY_EDGE, facecolors='none', edgecolor=GRAY_EDGE, linewidth=0.7)
sns.scatterplot(data=cdm, x="day", y="dir", ax=ax3, marker='D', s=MS,
                color=RED_EDGE, facecolors='none', edgecolor=RED_EDGE, linewidth=0.7)
style(ax3, dir_ticks, dir_tick_labels, (0, 360))
ax3.set_xticklabels(date_labels)
ax3.set_xlabel("day (dd/mm/yy)", fontsize=FT)
ax3.xaxis.set_label_coords(0.5, -0.19)
ax3.set_ylabel("Direction (deg))", fontsize=FT)
ax3.yaxis.set_label_coords(-0.058, 0.5)
ax3.text(0.5, 1.12, "Current Direction", transform=ax3.transAxes,
         ha='center', va='center', fontsize=FT)
h_fd = Line2D([], [], color=GRAY_EDGE, marker='D', ls='none', mfc='none', mec=GRAY_EDGE, ms=3.6, mew=0.7)
h_md = Line2D([], [], color=RED_EDGE, marker='D', ls='none', mfc='none', mec=RED_EDGE, ms=3.6, mew=0.7)
ax3.legend([h_fd, h_md], ["Field", "Model"], loc='center left',
           bbox_to_anchor=(0.712, 1.145), ncol=2, frameon=False, fontsize=FT,
           handlelength=3.2, handletextpad=0.25, columnspacing=0.85,
           borderpad=0, borderaxespad=0, numpoints=1)

fig.savefig("out.png", dpi=100, facecolor='white')
